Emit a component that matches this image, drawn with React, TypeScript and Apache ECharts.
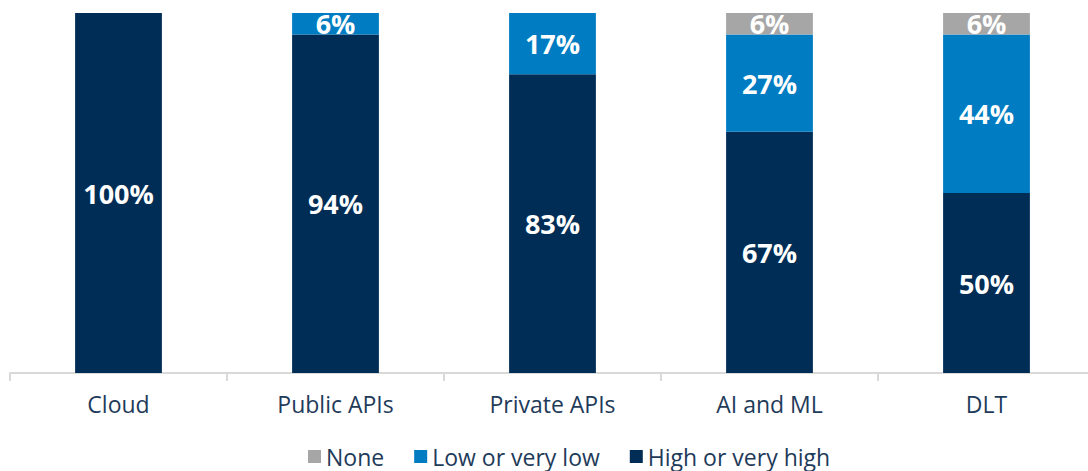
import React, { useEffect, useRef } from "react";
import * as echarts from "echarts";

const categories = ["Cloud", "Public APIs", "Private APIs", "AI and ML", "DLT"];
const highValues = [100, 94, 83, 67, 50];
const lowValues = [0, 6, 17, 27, 44];
const noneValues = [0, 0, 0, 6, 6];

const FONT = "'Open Sans', 'Noto Sans', sans-serif";

export default function App() {
  const ref = useRef<HTMLDivElement>(null);
  useEffect(() => {
    if (!ref.current) return;
    const chart = echarts.init(ref.current, undefined, { renderer: "svg" });
    const label = {
      show: true,
      position: "inside",
      color: "#ffffff",
      fontWeight: "bold",
      fontSize: 27,
      fontFamily: FONT,
      formatter: (p: any) => (p.value > 0 ? p.value + "%" : ""),
    };
    const mk = (name: string, data: number[], color: string) => ({
      name,
      type: "bar",
      stack: "s",
      data,
      barWidth: "40%",
      itemStyle: { color },
      label,
      emphasis: { disabled: true },
    });
    chart.setOption({
      animation: false,
      grid: { left: 10, width: 1085, top: 13, bottom: 98, containLabel: false },
      legend: {
        left: 303,
        top: 440,
        itemWidth: 13,
        itemHeight: 13,
        itemGap: 30,
        icon: "rect",
        textStyle: { fontSize: 23, color: "#1F3B5A", fontFamily: FONT },
        data: ["None", "Low or very low", "High or very high"],
      },
      xAxis: {
        type: "category",
        data: categories,
        axisLine: { lineStyle: { color: "#D9D9D9", width: 2 } },
        axisTick: { show: true, length: 8, lineStyle: { color: "#D9D9D9", width: 2 } },
        axisLabel: { fontSize: 23, color: "#1F3B5A", margin: 19, fontFamily: FONT },
      },
      yAxis: {
        type: "value",
        min: 0,
        max: 100,
        show: false,
        splitLine: { show: false },
      },
      series: [
        mk("High or very high", highValues, "#002D55"),
        mk("Low or very low", lowValues, "#007CC2"),
        mk("None", noneValues, "#A6A6A6"),
      ],
    });
    return () => chart.dispose();
  }, []);
  return (
    <div style={{ position: "fixed", left: 0, top: 0, width: 1088, height: 471, overflow: "hidden", background: "#fff" }}>
      <div ref={ref} style={{ width: 1100, height: 471 }} />
    </div>
  );
}
